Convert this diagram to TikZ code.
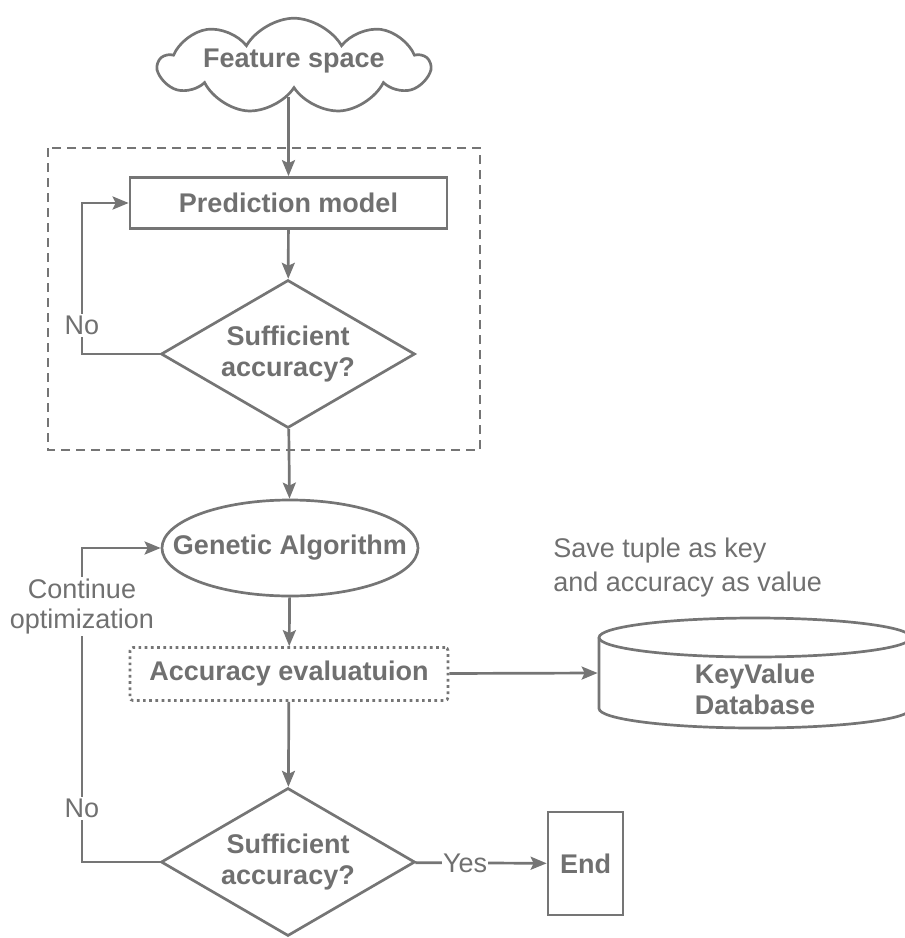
\documentclass[tikz,border=0pt]{standalone}
\usepackage{fontspec}
\setmainfont{Liberation Sans}
\usetikzlibrary{arrows.meta,positioning,shapes.geometric,shapes.symbols}
\definecolor{flowgray}{RGB}{117,117,117}
\definecolor{textgray}{RGB}{112,112,112}

\begin{document}
\begin{tikzpicture}[x=1pt,y=-1pt,line width=2.7pt,
  box/.style={draw=flowgray,line width=2.7pt,text=textgray,inner sep=0pt,
    font=\bfseries\fontsize{27}{31}\selectfont,align=center},
  lbl/.style={text=textgray,fill=white,inner sep=2pt,font=\fontsize{27}{30}\selectfont,align=center},
  arr/.style={draw=flowgray,line width=2.7pt,-{Stealth[length=16pt,width=13pt,inset=3pt]}}]
  \useasboundingbox (0,0) rectangle (905,938);
  % frame round the prediction loop
  \draw[flowgray,dash pattern=on 9pt off 6pt] (48,148) rectangle (480,450);
  \node[box,cloud,cloud puffs=9,cloud puff arc=120,aspect=3.2,inner xsep=-22pt,inner ysep=10pt,
        minimum width=270pt,minimum height=82pt] (feat) at (294,66) {\raisebox{-1pt}[0pt][0pt]{Feature space}};
  \node[box,minimum width=317pt,minimum height=51pt] (pred) at (288.5,203) {Prediction model};
  \node[box,diamond,aspect=1.74,minimum width=254pt,minimum height=148pt] (acc1) at (288,354) {Sufficient\\accuracy?};
  \node[box,ellipse,minimum width=256pt,minimum height=96pt] (ga) at (290,548) {\makebox[0pt]{Genetic Algorithm}};
  \node[box,rounded corners=3pt,dash pattern=on 2.7pt off 3.5pt,
        minimum width=318pt,minimum height=53pt] (eval) at (289,674) {Accuracy evaluatuion};
  \node[box,diamond,aspect=1.74,minimum width=254pt,minimum height=148pt] (acc2) at (288,862) {Sufficient\\accuracy?};
  \node[box,minimum width=75pt,minimum height=103pt] (end) at (585.5,863.5) {End};
  % database cylinder, cut off by the right edge
  \node[box,draw=none,minimum width=312pt,minimum height=110pt] (db) at (755,673) {};
  \node[box,draw=none] (dbtext) at (755,689) {KeyValue\\Database};
  \draw[flowgray] (599,637.5) -- (599,708.5) arc[start angle=180,end angle=0,x radius=156,y radius=19.5]
    -- (911,637.5);
  \draw[flowgray] (755,637.5) ellipse[x radius=156,y radius=19.5];
  \node[lbl,fill=none,anchor=west,align=left,font=\fontsize{27}{34}\selectfont] (savenote) at (550,568) {Save tuple as key\\and accuracy as value};
  \coordinate (loopx) at (82,0);

  \draw[arr] ([yshift=-7pt]feat.south -| pred.north) -- (pred.north);
  \draw[arr] (pred) -- (acc1);
  \draw[arr] (acc1.west) -- (acc1.west -| loopx) -- node[lbl,pos=0.19]{No} (pred.west -| loopx) -- (pred.west);
  \draw[arr] (acc1) -- (ga);
  \draw[arr] (ga) -- (eval);
  \draw[arr] (eval) -- (db.west);
  \draw[arr] (eval) -- (acc2);
  \draw[arr] (acc2.west) -- (acc2.west -| loopx) -- node[lbl,pos=0.17]{No}
    node[lbl,pos=0.815]{Continue\\optimization} (ga.west -| loopx) -- (ga.west);
  \draw[arr] (acc2) -- node[lbl,pos=0.38,inner sep=1pt]{Yes} (end);
\end{tikzpicture}
\end{document}
